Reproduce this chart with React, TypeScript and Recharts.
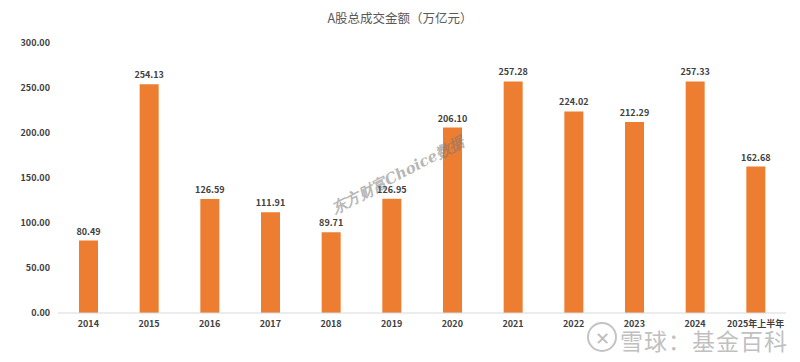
import React from 'react';
import { BarChart, Bar, XAxis, YAxis, LabelList } from 'recharts';

const years = ['2014', '2015', '2016', '2017', '2018', '2019', '2020', '2021', '2022', '2023', '2024', '2025年上半年'];
const turnover = [80.49, 254.13, 126.59, 111.91, 89.71, 126.95, 206.1, 257.28, 224.02, 212.29, 257.33, 162.68];
const yTicks = [0, 50, 100, 150, 200, 250, 300];

const data = years.map((year, i) => ({ year, value: turnover[i] }));

const FONT = '"Noto Sans CJK SC", "Liberation Sans", sans-serif';
const TEXT = '#404040';

export default function App() {
  return (
    <div style={{ position: 'relative', width: 800, height: 362, margin: -8, background: '#fff', fontFamily: FONT }}>
      <div
        style={{
          position: 'absolute', left: 0, top: 0, width: 798, height: 360,
          border: '1px solid #d9d9d9', pointerEvents: 'none',
        }}
      />
      <div
        style={{
          position: 'absolute', top: 8, left: 0, width: 800, textAlign: 'center',
          fontSize: 12.5, color: '#595959',
        }}
      >
        A股总成交金额（万亿元）
      </div>
      <BarChart width={800} height={362} data={data} margin={{ top: 43, right: 14, bottom: 29, left: 0 }}>
        <XAxis
          dataKey="year"
          tickLine={false}
          axisLine={{ stroke: '#d9d9d9' }}
          interval={0}
          height={20}
          tick={{ fontSize: 9, fontWeight: 700, fill: TEXT, fontFamily: FONT }}
        />
        <YAxis
          domain={[0, 300]}
          ticks={yTicks}
          width={58}
          axisLine={false}
          tickLine={false}
          tickFormatter={(v: number) => v.toFixed(2)}
          tick={{ fontSize: 9, fontWeight: 700, fill: TEXT, fontFamily: FONT }}
        />
        <Bar dataKey="value" fill="#ED7D31" barSize={19} isAnimationActive={false}>
          <LabelList
            dataKey="value"
            position="top"
            offset={6}
            formatter={(v: number) => v.toFixed(2)}
            style={{ fontSize: 9, fontWeight: 700, fill: TEXT, fontFamily: FONT }}
          />
        </Bar>
      </BarChart>
      <div
        style={{
          position: 'absolute', left: 318, top: 166, width: 160, textAlign: 'center',
          transform: 'rotate(-28deg)', fontFamily: '"DejaVu Serif", serif',
          fontSize: 15, fontWeight: 700, fontStyle: 'italic', color: 'rgba(120,120,120,0.55)',
        }}
      >
        东方财富Choice数据
      </div>
      <div
        style={{
          position: 'absolute', left: 587, top: 322, width: 26, height: 26, borderRadius: '50%',
          border: '2px solid rgba(170,170,170,0.7)', color: 'rgba(170,170,170,0.8)',
          fontSize: 18, lineHeight: '26px', textAlign: 'center',
        }}
      >
        ✕
      </div>
      <div
        style={{
          position: 'absolute', left: 620, top: 323, fontSize: 23, letterSpacing: 1,
          color: 'rgba(175,175,175,0.8)',
        }}
      >
        雪球：基金百科
      </div>
    </div>
  );
}
